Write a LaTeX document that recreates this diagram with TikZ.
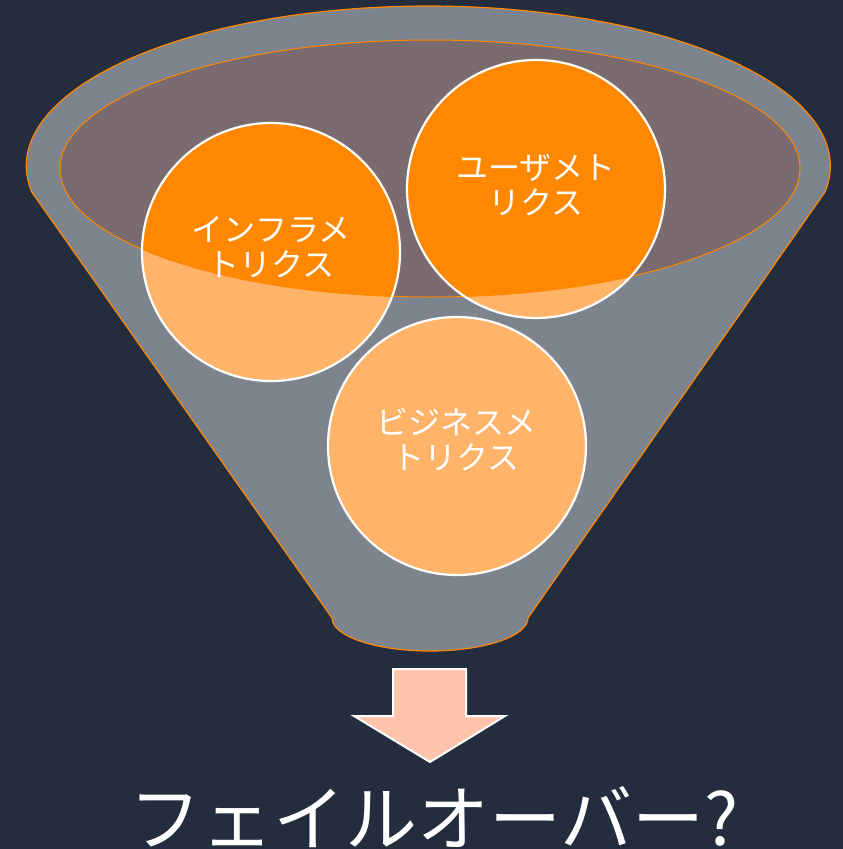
\documentclass[tikz,border=0pt]{standalone}
\usepackage{fontspec}
\newfontfamily\jp{Noto Sans CJK JP}
\definecolor{bgc}{HTML}{232D3E}
\definecolor{funnelgray}{HTML}{7E848D}
\definecolor{innerc}{HTML}{7A6C6E}
\definecolor{orng}{HTML}{FF8800}
\definecolor{lightorng}{HTML}{FFB469}
\definecolor{peach}{HTML}{FFC4AB}
\tikzset{
  ball/.style={circle, minimum size=258pt, inner sep=0pt},
  balltext/.style={text=white, align=center, font=\jp\fontsize{32}{35}\selectfont},
}
\begin{document}
\begin{tikzpicture}[x=1pt,y=1pt]
\fill[bgc] (0,0) rectangle (843,-849);
\useasboundingbox (0,0) rectangle (843,-849);
% funnel body
\path[fill=funnelgray, draw=orng, line width=1.2pt]
  (31.7,-192) arc[start angle=189.35, end angle=-9.35, x radius=402, y radius=160]
  -- (528,-618) arc[start angle=0, end angle=-180, x radius=98, y radius=33]
  -- cycle;
% inner ellipse fill
\fill[innerc] (430,-168.5) ellipse[x radius=370, y radius=128.5];
% circles
\node[ball, fill=lightorng] (infra) at (271,-252) {};
\node[ball, fill=lightorng] (user) at (536,-189) {};
\node[ball, fill=lightorng] (biz) at (457,-446) {};
\begin{scope}
  \clip (430,-168.5) ellipse[x radius=370, y radius=128.5];
  \fill[orng] (infra.center) circle[radius=129];
  \fill[orng] (user.center) circle[radius=129];
  \fill[orng] (biz.center) circle[radius=129];
\end{scope}
\draw[orng, line width=1pt] (430,-168.5) ellipse[x radius=370, y radius=128.5];
\draw[white, line width=2.2pt] (infra.center) circle[radius=129];
\draw[white, line width=2.2pt] (user.center) circle[radius=129];
\draw[white, line width=2.2pt] (biz.center) circle[radius=129];
% texts
\node[balltext] (infratext) at (271,-247) {インフラメ\\トリクス};
\node[balltext] (usertext) at (536,-185) {ユーザメト\\リクス};
\node[balltext] (biztext) at (456,-440) {ビジネスメ\\トリクス};
% arrow
\path[fill=peach, draw=white, line width=2pt, line join=miter]
  (393,-669) -- (466,-669) -- (466,-716) -- (505,-716) -- (430,-762)
  -- (354,-716) -- (393,-716) -- cycle;
% bottom text
\node[anchor=base, text=white, font=\jp\fontsize{72}{80}\selectfont, inner sep=0pt] (fo) at (434,-845) {フェイルオーバー?};
\end{tikzpicture}
\end{document}
